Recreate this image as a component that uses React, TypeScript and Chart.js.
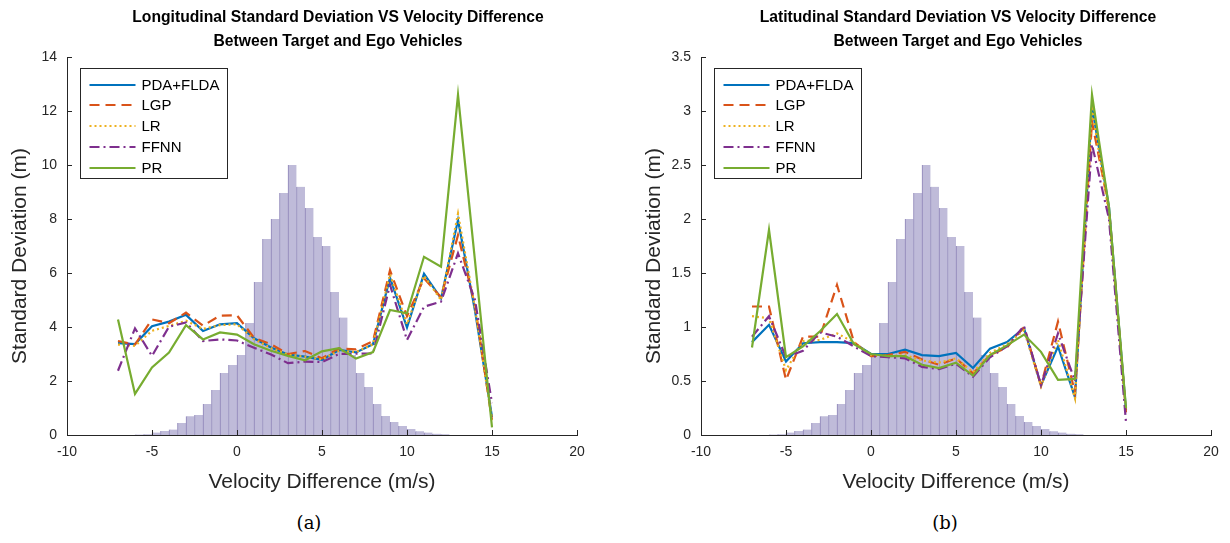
import React, { useEffect, useRef } from "react";
import { Chart, registerables } from "chart.js";

Chart.register(...registerables);

// ---------- data ----------
const velocity = [-7, -6, -5, -4, -3, -2, -1, 0, 1, 2, 3, 4, 5, 6, 7, 8, 9, 10, 11, 12, 13, 14, 15];

const histBinCenters = [
  -5.75, -5.25, -4.75, -4.25, -3.75, -3.25, -2.75, -2.25, -1.75, -1.25, -0.75, -0.25,
  0.25, 0.75, 1.25, 1.75, 2.25, 2.75, 3.25, 3.75, 4.25, 4.75, 5.25, 5.75, 6.25, 6.75,
  7.25, 7.75, 8.25, 8.75, 9.25, 9.75, 10.25, 10.75, 11.25, 11.75, 12.25,
];
// histogram heights, normalised to a peak of 10 (left axis units)
const histHeights = [
  0.02, 0.03, 0.09, 0.15, 0.2, 0.44, 0.69, 0.74, 1.15, 1.67, 2.3, 2.59,
  2.96, 4.15, 5.67, 7.26, 8.0, 8.96, 10.0, 9.19, 8.41, 7.33, 7.0, 5.3, 4.35, 2.96,
  2.3, 1.78, 1.15, 0.7, 0.48, 0.33, 0.22, 0.14, 0.09, 0.05, 0.03,
];
const histPeakLon = 10;
const histPeakLat = 2.5;

const lonPDA = [3.40, 3.37, 4.03, 4.20, 4.45, 3.85, 4.10, 4.14, 3.58, 3.24, 2.98, 2.90, 2.78, 3.15, 3.06, 3.36, 5.82, 3.98, 5.97, 5.06, 7.96, 4.60, 0.67];
const lonLGP = [3.48, 3.35, 4.28, 4.14, 4.53, 4.05, 4.42, 4.43, 3.60, 3.36, 3.00, 3.11, 2.84, 3.21, 3.17, 3.48, 6.10, 4.40, 5.80, 5.10, 7.40, 4.80, 0.55];
const lonLR = [3.35, 3.30, 3.86, 4.04, 4.23, 3.93, 4.07, 4.10, 3.55, 3.22, 2.98, 2.90, 2.80, 3.12, 3.07, 3.36, 5.95, 4.10, 5.90, 5.00, 8.20, 4.70, 0.55];
const lonFFNN = [2.38, 3.95, 2.93, 4.01, 4.17, 3.48, 3.54, 3.50, 3.23, 2.98, 2.66, 2.72, 2.70, 3.00, 3.01, 3.02, 5.56, 3.52, 4.75, 4.94, 6.73, 5.00, 1.18];
const lonPR = [4.28, 1.52, 2.50, 3.05, 4.07, 3.54, 3.80, 3.72, 3.36, 3.12, 2.93, 2.77, 3.10, 3.22, 2.83, 3.07, 4.63, 4.51, 6.60, 6.23, 12.6, 6.45, 0.28];

const latPDA = [0.86, 1.02, 0.68, 0.85, 0.86, 0.86, 0.85, 0.75, 0.75, 0.79, 0.74, 0.73, 0.76, 0.62, 0.80, 0.86, 0.99, 0.46, 0.82, 0.35, 3.04, 2.11, 0.23];
const latLGP = [1.19, 1.19, 0.51, 0.91, 0.91, 1.39, 0.86, 0.73, 0.74, 0.77, 0.70, 0.65, 0.71, 0.57, 0.74, 0.81, 1.00, 0.46, 1.05, 0.39, 2.90, 2.10, 0.21];
const latLR = [1.10, 1.08, 0.60, 0.87, 0.88, 0.94, 0.86, 0.74, 0.73, 0.74, 0.69, 0.67, 0.71, 0.58, 0.76, 0.84, 0.97, 0.45, 0.88, 0.34, 3.02, 2.05, 0.23];
const latFFNN = [0.91, 1.10, 0.72, 0.78, 0.95, 0.91, 0.82, 0.73, 0.72, 0.71, 0.63, 0.61, 0.66, 0.54, 0.72, 0.82, 1.01, 0.46, 0.94, 0.50, 2.69, 2.00, 0.12];
const latPR = [0.81, 1.90, 0.72, 0.82, 0.96, 1.12, 0.84, 0.75, 0.73, 0.73, 0.65, 0.62, 0.67, 0.55, 0.74, 0.83, 0.93, 0.77, 0.51, 0.52, 3.15, 2.11, 0.25];

const seriesNames = ["PDA+FLDA", "LGP", "LR", "FFNN", "PR"];
const xTicks = [-10, -5, 0, 5, 10, 15, 20];
const lonYTicks = [0, 2, 4, 6, 8, 10, 12, 14];
const latYTicks = [0, 0.5, 1, 1.5, 2, 2.5, 3, 3.5];
const xTitle = "Velocity Difference (m/s)";
const yTitle = "Standard Deviation (m)";

// ---------- styles ----------
const FONT = '"Liberation Sans", Arial, Helvetica, sans-serif';
const AXIS_COLOR = "#262626";
const seriesStyles = [
  { color: "#0072BD", dash: [] as number[] },
  { color: "#D95319", dash: [10, 6] },
  { color: "#EDB120", dash: [2, 3] },
  { color: "#7E2F8E", dash: [10, 4, 2, 4] },
  { color: "#77AC30", dash: [] as number[] },
];

const decorPlugin = {
  id: "decor",
  afterDraw(chart: any) {
    const ctx = chart.ctx;
    const area = chart.chartArea;
    const xs = chart.scales.x;
    const ys = chart.scales.y;
    ctx.save();
    // inward tick marks
    ctx.strokeStyle = AXIS_COLOR;
    ctx.lineWidth = 1;
    ctx.setLineDash([]);
    ctx.beginPath();
    for (const v of xTicks) {
      const px = Math.round(xs.getPixelForValue(v)) + 0.5;
      ctx.moveTo(px, area.bottom);
      ctx.lineTo(px, area.bottom - 5);
    }
    for (const t of ys.ticks) {
      const py = Math.round(ys.getPixelForValue(t.value)) + 0.5;
      ctx.moveTo(area.left, py);
      ctx.lineTo(area.left + 5, py);
    }
    ctx.stroke();

    // axis titles
    ctx.fillStyle = AXIS_COLOR;
    ctx.font = `21px ${FONT}`;
    ctx.textAlign = "center";
    ctx.textBaseline = "middle";
    ctx.fillText(xTitle, (area.left + area.right) / 2, area.bottom + 47);
    ctx.save();
    ctx.translate(area.left - 47, (area.top + area.bottom) / 2 + 10);
    ctx.rotate(-Math.PI / 2);
    ctx.fillText(yTitle, 0, 0);
    ctx.restore();

    // legend
    const bx = Math.round(area.left + 13) + 0.5;
    const by = Math.round(area.top + 11) + 0.5;
    const bw = 147;
    const bh = 110;
    ctx.fillStyle = "#ffffff";
    ctx.fillRect(bx, by, bw, bh);
    ctx.strokeStyle = "#262626";
    ctx.lineWidth = 1;
    ctx.strokeRect(bx, by, bw, bh);
    const rows = [16, 36, 57, 78, 99];
    ctx.font = `15px ${FONT}`;
    ctx.textBaseline = "middle";
    ctx.textAlign = "left";
    seriesNames.forEach((name, i) => {
      const y = Math.round(by + rows[i]);
      ctx.strokeStyle = seriesStyles[i].color;
      ctx.lineWidth = 2.2;
      ctx.setLineDash(seriesStyles[i].dash);
      ctx.beginPath();
      ctx.moveTo(bx + 9, y);
      ctx.lineTo(bx + 55, y);
      ctx.stroke();
      ctx.setLineDash([]);
      ctx.fillStyle = "#000000";
      ctx.fillText(name, bx + 61, y + 1);
    });
    ctx.restore();
  },
};

function buildConfig(
  series: number[][],
  histPeak: number,
  yMax: number,
  yTicks: number[],
  padLeft: number,
  padRight: number
) {
  const scale = histPeak / Math.max(...histHeights);
  const datasets: any[] = series.map((vals, i) => ({
    type: "line",
    label: seriesNames[i],
    data: velocity.map((x, j) => ({ x, y: vals[j] })),
    borderColor: seriesStyles[i].color,
    borderDash: seriesStyles[i].dash,
    borderWidth: 2.2,
    pointRadius: 0,
    tension: 0,
    fill: false,
    order: 5 - i,
  }));
  datasets.push({
    type: "bar",
    label: "hist",
    data: histBinCenters.map((x, j) => ({ x, y: histHeights[j] * scale })),
    backgroundColor: "rgb(191,187,217)",
    borderColor: "rgb(140,131,183)",
    borderWidth: { left: 1, right: 0, top: 0, bottom: 0 },
    borderSkipped: false,
    barPercentage: 1,
    categoryPercentage: 1,
    order: 10,
  });

  return {
    type: "line",
    data: { datasets },
    plugins: [decorPlugin],
    options: {
      responsive: false,
      animation: false,
      devicePixelRatio: 1,
      layout: { padding: { top: 57, right: padRight, left: padLeft, bottom: 0 } },
      plugins: {
        legend: { display: false },
        tooltip: { enabled: false },
        title: { display: false },
      },
      scales: {
        x: {
          type: "linear",
          min: -10,
          max: 20,
          offset: false,
          afterBuildTicks: (s: any) => {
            s.ticks = xTicks.map((v) => ({ value: v }));
          },
          afterFit: (s: any) => {
            s.height = 65;
          },
          grid: { display: false, drawTicks: false },
          border: { display: true, color: AXIS_COLOR, width: 1 },
          ticks: {
            font: { family: FONT, size: 14 },
            color: AXIS_COLOR,
            padding: 9,
            maxRotation: 0,
            autoSkip: false,
            callback: (v: any) => String(Number(v)),
          },
          title: { display: false },
        },
        y: {
          type: "linear",
          min: 0,
          max: yMax,
          afterBuildTicks: (s: any) => {
            s.ticks = yTicks.map((v) => ({ value: v }));
          },
          afterFit: (s: any) => {
            s.width = 67;
          },
          grid: { display: false, drawTicks: false },
          border: { display: true, color: AXIS_COLOR, width: 1 },
          ticks: {
            font: { family: FONT, size: 14 },
            color: AXIS_COLOR,
            padding: 10,
            autoSkip: false,
            callback: (v: any) => String(Number(v)),
          },
          title: { display: false },
        },
      },
    },
  };
}

function ChartCanvas(props: { config: () => any; left: number }) {
  const ref = useRef<HTMLCanvasElement | null>(null);
  useEffect(() => {
    if (!ref.current) return;
    const chart = new Chart(ref.current, props.config());
    return () => chart.destroy();
  }, []);
  return (
    <canvas
      ref={ref}
      width={615}
      height={500}
      style={{ position: "absolute", left: props.left, top: 0, width: 615, height: 500 }}
    />
  );
}

const titleStyle = (cx: number): React.CSSProperties => ({
  position: "absolute",
  left: cx - 300,
  top: 5,
  width: 600,
  textAlign: "center",
  fontFamily: FONT,
  fontWeight: "bold",
  fontSize: 15.7,
  lineHeight: "24px",
  color: "#000",
  whiteSpace: "nowrap",
});

const captionStyle = (cx: number): React.CSSProperties => ({
  position: "absolute",
  left: cx - 50,
  top: 511,
  width: 100,
  textAlign: "center",
  fontFamily: '"DejaVu Serif", "Liberation Serif", serif',
  fontSize: 18,
  lineHeight: "24px",
  color: "#000",
});

export default function App() {
  return (
    <div
      style={{
        position: "absolute",
        left: 0,
        top: 0,
        width: 1230,
        height: 543,
        background: "#fff",
        overflow: "hidden",
      }}
    >
      <ChartCanvas
        left={0}
        config={() =>
          buildConfig([lonPDA, lonLGP, lonLR, lonFFNN, lonPR], histPeakLon, 14, lonYTicks, 0, 38)
        }
      />
      <ChartCanvas
        left={615}
        config={() =>
          buildConfig([latPDA, latLGP, latLR, latFFNN, latPR], histPeakLat, 3.5, latYTicks, 19, 19)
        }
      />
      <div style={titleStyle(338)}>
        Longitudinal Standard Deviation VS Velocity Difference
        <br />
        Between Target and Ego Vehicles
      </div>
      <div style={titleStyle(958)}>
        Latitudinal Standard Deviation VS Velocity Difference
        <br />
        Between Target and Ego Vehicles
      </div>
      <div style={captionStyle(309)}>(a)</div>
      <div style={captionStyle(945)}>(b)</div>
    </div>
  );
}
